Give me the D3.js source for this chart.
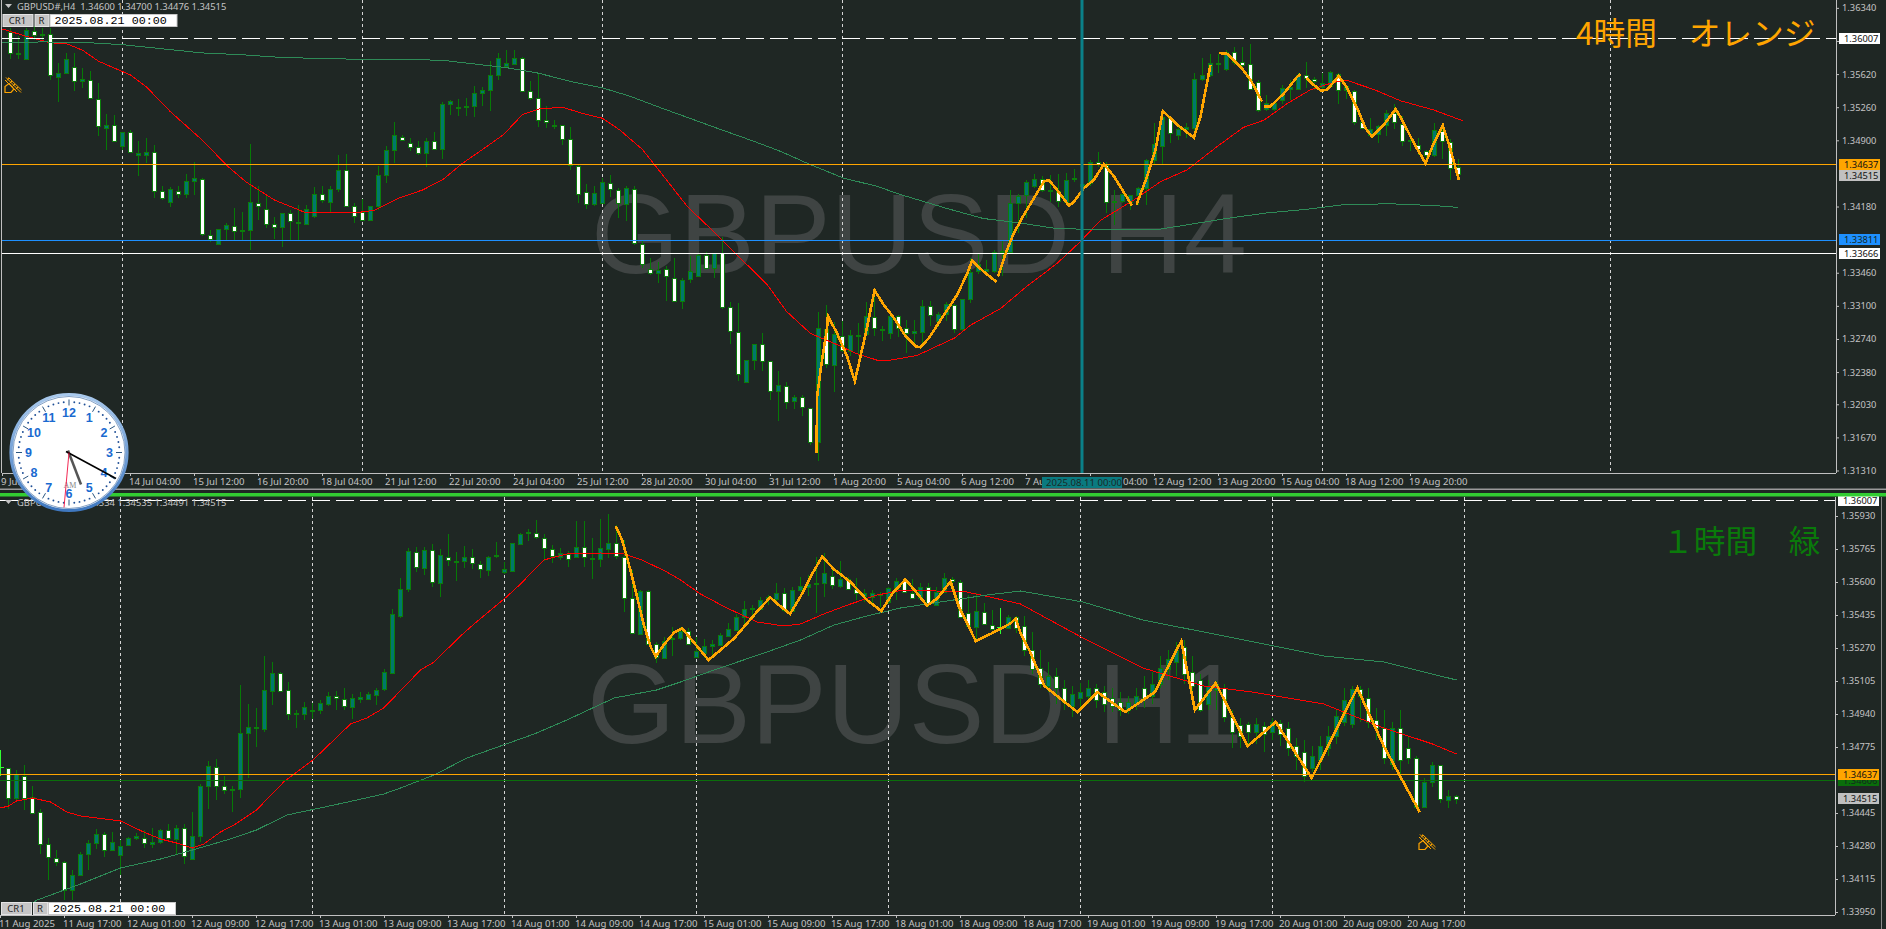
<!DOCTYPE html>
<html><head><meta charset="utf-8">
<script src="https://cdn.jsdelivr.net/npm/d3@7"></script>
<style>
html,body{margin:0;padding:0;background:#1f2724;overflow:hidden}
svg{display:block}
text{font-family:"Noto Sans",sans-serif}
</style></head><body><svg id="c" width="1886" height="929"></svg>
<script>
// all prices below are in pips (price x 10000)
const h4Open=[13607,13583,13578,13608,13604,13605,13559,13563,13569,13554,
13555,13534,13503,13506,13484,13498,13474,13474,13477,13434,
13422,13434,13431,13445,13447,13386,13377,13393,13396,13391,
13392,13421,13415,13399,13395,13410,13400,13399,13407,13431,
13423,13436,13457,13418,13412,13403,13418,13452,13479,13493,
13486,13482,13476,13489,13480,13529,13525,13526,13527,13541,
13545,13560,13571,13573,13579,13543,13535,13511,13505,13506,
13491,13462,13433,13420,13421,13443,13435,13421,13437,13377,
13349,13345,13349,13340,13315,13338,13342,13365,13351,13367,
13308,13281,13227,13251,13268,13249,13216,13222,13206,13210,
13198,13161,13284,13245,13277,13261,13277,13278,13297,13284,
13280,13298,13285,13280,13281,13309,13293,13301,13310,13284,
13317,13347,13347,13347,13368,13368,13421,13430,13439,13447,
13435,13434,13422,13447,13440,13443,13466,13463,13423,13423,
13422,13430,13438,13468,13484,13514,13496,13502,13503,13556,
13560,13573,13566,13585,13575,13572,13553,13523,13523,13533,
13545,13545,13560,13556,13548,13549,13562,13544,13543,13509,
13496,13496,13506,13519,13507,13489,13484,13478,13474,13500,
13488,13460];
const h4High=[13612,13603,13612,13614,13612,13612,13574,13585,13585,13569,
13565,13552,13519,13518,13499,13501,13489,13493,13485,13440,
13439,13440,13453,13466,13449,13393,13394,13400,13416,13412,
13486,13440,13429,13407,13411,13414,13420,13420,13439,13440,
13440,13474,13475,13422,13426,13419,13462,13484,13510,13496,
13492,13489,13492,13499,13532,13534,13535,13536,13549,13548,
13576,13585,13588,13588,13581,13554,13563,13527,13512,13507,
13505,13463,13443,13440,13449,13452,13438,13440,13440,13380,
13362,13358,13353,13362,13340,13364,13367,13369,13368,13385,
13314,13313,13251,13269,13281,13249,13239,13227,13213,13213,
13199,13303,13311,13292,13293,13284,13291,13314,13327,13288,
13300,13300,13295,13295,13316,13315,13303,13314,13312,13318,
13362,13366,13360,13371,13380,13436,13432,13447,13453,13451,
13452,13453,13454,13459,13443,13469,13477,13466,13436,13432,
13431,13439,13470,13509,13523,13516,13505,13509,13563,13579,
13584,13584,13588,13591,13591,13595,13556,13539,13532,13550,
13556,13563,13575,13559,13563,13565,13563,13550,13545,13514,
13514,13507,13523,13530,13516,13494,13492,13480,13509,13507,
13491,13470];
const h4Low=[13578,13578,13577,13599,13598,13556,13532,13562,13544,13547,
13535,13495,13480,13489,13480,13476,13451,13465,13427,13425,
13418,13427,13427,13431,13386,13379,13376,13382,13381,13382,
13371,13403,13395,13383,13374,13381,13382,13398,13406,13422,
13411,13434,13417,13400,13402,13402,13414,13444,13465,13489,
13478,13474,13461,13480,13470,13518,13516,13516,13515,13527,
13522,13556,13570,13572,13543,13534,13504,13503,13502,13485,
13458,13422,13415,13419,13421,13428,13405,13402,13376,13351,
13344,13335,13315,13315,13307,13335,13341,13351,13340,13307,
13269,13228,13226,13240,13239,13208,13185,13198,13198,13190,
13159,13141,13242,13216,13260,13255,13255,13277,13277,13272,
13274,13276,13259,13266,13269,13288,13287,13293,13281,13283,
13313,13345,13345,13346,13342,13367,13389,13406,13438,13434,
13423,13417,13421,13445,13429,13440,13461,13411,13398,13422,
13414,13420,13420,13463,13463,13487,13490,13492,13494,13555,
13559,13563,13565,13572,13570,13545,13521,13522,13522,13530,
13534,13545,13547,13545,13543,13548,13530,13535,13507,13502,
13494,13487,13495,13502,13484,13478,13474,13463,13472,13470,
13447,13448];
const h4Close=[13584,13584,13609,13604,13605,13560,13563,13578,13554,13556,
13535,13505,13506,13489,13499,13476,13476,13477,13435,13426,
13436,13431,13445,13448,13387,13382,13393,13397,13391,13392,
13422,13418,13399,13396,13410,13401,13401,13415,13431,13424,
13437,13457,13418,13407,13403,13418,13452,13479,13495,13490,
13482,13476,13489,13480,13529,13532,13526,13527,13541,13544,
13561,13579,13574,13579,13543,13535,13511,13509,13506,13491,
13463,13432,13420,13432,13444,13436,13421,13438,13378,13355,
13345,13348,13341,13315,13338,13347,13365,13351,13367,13308,
13282,13235,13251,13268,13250,13216,13223,13205,13210,13199,
13161,13285,13246,13279,13262,13278,13278,13298,13285,13283,
13298,13285,13280,13282,13309,13299,13301,13312,13284,13317,
13346,13355,13349,13368,13369,13421,13429,13444,13447,13435,
13434,13423,13446,13448,13442,13466,13464,13423,13424,13431,
13430,13438,13468,13485,13515,13498,13502,13504,13556,13560,
13573,13574,13585,13574,13572,13545,13523,13530,13530,13546,
13547,13560,13557,13554,13552,13564,13545,13548,13509,13503,
13502,13505,13519,13509,13489,13490,13480,13474,13501,13489,
13460,13452];

const h1Open=[13467,13467,13452,13463,13452.5,13445,13429,13422,13420,13406,
13413.5,13424,13429.5,13434,13426,13423.5,13428.5,13432,13432,13429,
13430,13436,13431.5,13437,13421.5,13433,13458,13467.5,13458,13456,
13456.5,13484.5,13487,13486.5,13505.5,13514.5,13506,13494,13494,13495.5,
13496,13499,13503,13501.5,13497.5,13501.5,13501.5,13503.5,13506.5,13514.5,
13543,13556.5,13575,13567,13576,13559.5,13572.5,13570.5,13570.5,13572.5,
13569,13566,13573,13565,13565.5,13579,13584.5,13584.5,13582,13576.5,
13572.5,13574,13572.5,13577.5,13572,13571.5,13576.5,13579.5,13572.5,13552,
13534,13555.5,13529,13522,13531.5,13532,13535.5,13522.5,13524.5,13528,
13528.5,13533,13536,13542.5,13546.5,13546.5,13552,13551.5,13554.5,13545.5,
13556,13557.5,13559,13559.5,13563,13558,13561.5,13556.5,13553,13552.5,
13554,13550,13556.5,13560.5,13554.5,13552,13557.5,13548.5,13555,13561.5,
13560,13544.5,13537.5,13545,13538.5,13537,13537,13542.5,13538,13526,
13517,13508,13513,13507,13498,13502,13503,13507,13505,13502,
13500,13496,13499,13507,13503,13509,13516.5,13520,13527.5,13515,
13511,13499,13506,13507,13492.5,13488.5,13489,13485,13488,13485,
13489.5,13487,13478,13475,13467,13471,13477,13483,13490,13489,
13506.5,13502,13491,13487,13469,13487,13477,13472,13447.5,13460,
13468.5,13451,13453];
const h1High=[13476,13467,13466,13468.5,13458,13446.5,13432,13426,13420.5,13416,
13425,13431,13436.5,13435,13435,13431,13432.5,13434.5,13436,13437,
13436.5,13439,13438.5,13439,13445,13459,13470.5,13471.5,13463,13458,
13508.5,13499,13497,13523,13520,13515,13510,13496,13500,13499.5,
13501,13505,13505.5,13507,13504,13505,13505,13507,13516.5,13546.5,
13562,13577,13577.5,13577.5,13579,13576.5,13584,13575,13578,13576.5,
13570.5,13573,13580,13570,13579.5,13584.5,13586.5,13591,13584,13578.5,
13577,13575.5,13590.5,13590.5,13582,13591.5,13594,13588.5,13581,13566,
13556,13556,13530,13532.5,13537.5,13537.5,13537,13532.5,13531.5,13531,
13534.5,13539.5,13544,13550.5,13548.5,13552.5,13553.5,13559.5,13557,13557.5,
13562.5,13563.5,13572.5,13574.5,13567.5,13570.5,13562.5,13562,13556.5,13556,
13555,13557.5,13562,13562,13561.5,13559.5,13559.5,13557.5,13564.5,13562.5,
13561,13553.5,13554.5,13549.5,13546,13547,13543.5,13543,13543,13535,
13526,13520,13517,13511,13508,13509.5,13511,13509,13508,13507,
13505,13503,13507,13513,13515,13523,13526,13530,13531,13523,
13514,13511,13510.5,13509,13496,13492,13490,13492,13490,13492,
13491,13490,13482,13481,13478,13483,13488,13496,13507,13508,
13508,13507,13497,13496,13490,13496,13483,13473,13462,13470,
13468.5,13456,13453.5];
const h1Low=[13463,13446.5,13451,13446,13444.5,13424,13411,13418,13401,13401,
13413,13416,13426.5,13422.5,13425.5,13413.5,13428.5,13431,13427,13427,
13429,13431,13423.5,13419,13421,13430,13446.5,13451,13454,13445,
13452,13462,13477.5,13485,13498.5,13505.5,13491,13487,13491,13491.5,
13494,13498,13496,13496,13491.5,13499.5,13501,13498.5,13505.5,13514.5,
13542,13555,13565,13563.5,13557.5,13552.5,13568,13560.5,13567,13566.5,
13562,13563,13572,13564,13565,13578.5,13580.5,13581.5,13570.5,13569.5,
13571,13567.5,13572,13567.5,13561.5,13567.5,13572,13571.5,13545,13534,
13533.5,13528.5,13519.5,13521.5,13523,13531,13528.5,13522.5,13522,13523.5,
13528.5,13532.5,13535.5,13538.5,13542,13546,13548.5,13550,13545,13545,
13555,13553,13544.5,13552.5,13556.5,13557,13556,13551,13550,13548.5,
13547.5,13549,13551,13554.5,13551.5,13551,13547.5,13548.5,13555,13559.5,
13542,13537.5,13530.5,13538.5,13536,13534,13537,13534.5,13523,13514,
13507,13505,13499,13496,13492.5,13496,13499,13497,13495,13495,
13493,13494,13496,13497,13499,13507,13511,13513,13509,13499,
13495,13496,13496,13490,13477,13477,13478,13479,13475,13481,
13478,13473,13466,13460,13465,13466,13473,13479,13488,13487,
13490,13487,13481,13469,13466,13463,13469,13447,13447,13457.5,
13449.5,13447,13449];
const h1Close=[13467.5,13452,13464,13452,13444.5,13429,13422.5,13420,13406,13413.5,
13424,13429.5,13434,13426,13430,13428,13432,13433,13429.5,13430,
13436,13432,13437,13423,13433,13458,13468,13458,13456,13456.5,
13484.5,13487.5,13487.5,13506,13514.5,13505.5,13494,13494.5,13497.5,13496,
13499.5,13503,13502,13498,13502,13502.5,13504,13506,13515,13544,
13556.5,13575.5,13567.5,13576,13560,13573.5,13571,13570,13572.5,13569.5,
13566.5,13572.5,13573.5,13566.5,13579.5,13584,13585,13582.5,13577,13573,
13574.5,13571.5,13577.5,13572.5,13571.5,13577,13579.5,13573,13552,13534.5,
13555.5,13529,13522.5,13530.5,13532,13535.5,13529,13525.5,13528,13529,
13533.5,13536.5,13542.5,13546.5,13547,13551,13552.5,13554.5,13546,13556,
13558,13559,13559.5,13564.5,13558.5,13561.5,13556.5,13554.5,13554.5,13554.5,
13553.5,13557,13560.5,13555,13552,13557.5,13549.5,13555,13562,13560.5,
13542.5,13538,13545.5,13539,13536.5,13537.5,13542.5,13537,13526,13516.5,
13509,13513,13507,13500,13504,13505,13507,13501,13499,13498,
13496,13500,13503,13502,13509,13517,13521.5,13526,13514,13508,
13496,13508,13509,13492.5,13485,13483,13485,13489,13484,13490,
13484,13477,13473,13463,13473,13478,13483,13493,13501,13506.5,
13503,13490,13487,13472,13487,13471,13472,13447.5,13460,13468.5,
13451.5,13453,13451.5];
const h1LimeBars=[0,125];

// moving averages: bar position + level
const h4RedBar=[-1,2,5,7,9,11,15,17,20,24,27,29.4,33,37,40,43,45.5,48.5,51.5,54,56.5,59,61.6,64,66,69,71.6,74,76.2,79,82,84.6,87.5,90.4,94.6,97,100,103,105.8,108.3,110,113.3,118,120,123.75,127,130.8,133.75,136.25,140.4,143.75,147.1,150.8,154.1,156.7,159.6,162.5,165.4,167.1,170.5,173.75,177.9,181.6];
const h4RedVal=[13611,13603,13596,13595,13588,13576,13561,13548,13521,13490,13463,13445,13425,13411,13411,13411,13414,13427,13436,13447,13465,13480,13496,13518,13524,13526,13519,13514,13501,13480,13447,13418,13394,13369,13333,13304,13280,13269,13258,13251,13251,13256,13275,13289,13307,13331,13356,13380,13403,13425,13445,13458,13483,13504,13512,13530,13545,13553,13555,13545,13533,13523,13511];
const h4GreenBar=[-1,4,10,14,17.3,24,29,34,39,44,49,54,59,62,66,70,74,77.4,81.4,89,92.9,96.25,99.6,104.1,108.3,111.25,117,121.6,126.25,130.8,136.25,143.4,147,152,157,162,166.6,172.5,178,181];
const h4GreenVal=[13596,13597,13596,13594,13591,13585,13583,13580,13579,13578,13578,13577,13572,13569,13563,13554,13547,13538,13525,13501,13489,13478,13465,13449,13440,13431,13416,13405,13400,13394,13393,13393,13398,13405,13411,13415,13420,13421,13419,13417];
const h1RedBar=[0,1,2,4,6.25,8.3,10,12,15,17.9,20,22,24,25.4,27.5,29.2,32,35.4,39.2,43.75,45.8,47.9,52.5,54.2,57.5,59.2,63.1,65,67.9,70.8,75,77.9,80.2,83.3,85,87.5,90.8,94.6,97.9,100,102.9,106.25,109.6,112.9,117,120.8,124.2,127.5,135.3,142.8,150.4,156.4,165.4,172.9,177.5,179,182];
const h1RedVal=[13447,13448,13450.5,13452,13450,13445,13443,13442,13440.5,13435,13431.5,13429.5,13427,13429,13435,13438.5,13446,13460,13471.5,13489,13492,13497,13516,13520,13533,13539,13552,13559,13571,13574,13574.5,13574,13571,13565,13561,13554,13547,13540,13538,13539,13544,13549,13553.5,13556,13555.5,13555,13552,13549,13532,13517,13508,13505,13499,13487,13481,13479,13474];
const h1GreenBar=[1,4.6,10,15,20,24,28.3,32,35.8,41.7,47.9,50,54.2,58.3,62.5,66.7,70.8,76.7,82,85,89.2,95.8,100,104.2,108.3,112.5,118.3,123.3,127.5,135.3,142.8,150.4,157.9,165.4,172.9,182];
const h1GreenVal=[13393,13401,13409,13417,13421.5,13426,13431,13436,13443.5,13448.5,13454,13457,13463.5,13472,13478,13484,13491,13502,13506,13510,13516,13525,13531,13538.5,13543,13547,13550.5,13553.5,13555.5,13550,13541,13535,13529,13523,13520,13511];

// zigzag overlay, each array is one unbroken stroke
const h4ZigBar=[[100.75,100.83,101.25,102.08,102.17,103.33,104.58,105.54,106.25,107.08,108,109.17,110.42,111.88,113.13,113.75,114.8,116.67,118.33,119.58,120.2,121.67,123.25],
[123.46,124.38,125.42,126.67,127.92,129.17,129.79,130.83,132.29,132.92,134.17,135.42,136.67,137.92,140.2],
[140.75,142.08,143.13,144.04,145.83,147.92,148.75,150],
[151.04,152.08,153.75,155,156.46],
[156.67,157.5,159.17,160.83,161.25],
[162,162.92,163.83,164.58,166.04,167.08,168.33,169.38,170.2,171.67,173.13,173.96,175.42,176.88,177.92,179.04,180,181.04]];
const h4ZigVal=[[13150,13211,13240,13287,13299,13280,13255,13228,13255,13287,13327,13311,13297,13277,13266,13265,13275,13300,13322,13345,13359,13347,13336],
[13342,13367,13389,13409,13427,13445,13447,13436,13419,13423,13438,13447,13464,13451,13419],
[13420,13451,13480,13522,13507,13493,13516,13572],
[13585,13584,13570,13556,13532],
[13527,13527,13541,13559,13562],
[13558,13550,13544,13545,13560,13547,13525,13503,13494,13507,13524,13512,13487,13465,13487,13506,13480,13447]];
const h1ZigBar=[76.9,77.7,78.3,79.2,80.4,81.25,81.9,82.9,84.2,85.2,87.1,88.5,90,91.7,94.2,96.2,97.3,98.7,100,101.5,102.7,104.2,106.25,108.3,110.1,111.5,113.1,114.6,115.8,117.1,118.75,119.8,121.9,123.75,126.25,126.9,127.5,128.6,130.5,134.6,137.1,140.6,144.3,147.6,149.3,151.9,155.9,159.4,163.9,169.6,172.9,177.4];
const h1ZigVal=[13588,13581,13572.7,13558.5,13539,13527.7,13522.7,13528.5,13534.7,13536.8,13527.7,13521,13526,13531.8,13543.5,13552.3,13548.5,13544,13552.7,13564.3,13572.7,13566.3,13560,13551,13545.5,13554.3,13561.3,13554.3,13548.2,13551.8,13560.2,13547.7,13530.5,13534,13539.3,13541.8,13534.3,13526,13508,13495,13505,13495,13505,13530.5,13496,13509.5,13478,13490,13462,13507,13478,13445];

// axis contents
const h4PriceTicks=[1.36340,1.35980,1.35620,1.35260,1.34900,1.34180,1.33460,1.33100,1.32740,1.32380,1.32030,1.31670,1.31310];
const h1PriceTicks=[1.35930,1.35765,1.35600,1.35435,1.35270,1.35105,1.34940,1.34775,1.34445,1.34280,1.34115,1.33950];
const h4TimeLabels=["9 Jul 20:00","11 Jul 12:00","14 Jul 04:00","15 Jul 12:00","16 Jul 20:00","18 Jul 04:00","21 Jul 12:00","22 Jul 20:00","24 Jul 04:00","25 Jul 12:00","28 Jul 20:00","30 Jul 04:00","31 Jul 12:00","1 Aug 20:00","5 Aug 04:00","6 Aug 12:00","7 Aug 20:00","11 Aug 04:00","12 Aug 12:00","13 Aug 20:00","15 Aug 04:00","18 Aug 12:00","19 Aug 20:00"];
const h1TimeLabels=["11 Aug 2025","11 Aug 17:00","12 Aug 01:00","12 Aug 09:00","12 Aug 17:00","13 Aug 01:00","13 Aug 09:00","13 Aug 17:00","14 Aug 01:00","14 Aug 09:00","14 Aug 17:00","15 Aug 01:00","15 Aug 09:00","15 Aug 17:00","18 Aug 01:00","18 Aug 09:00","18 Aug 17:00","19 Aug 01:00","19 Aug 09:00","19 Aug 17:00","20 Aug 01:00","20 Aug 09:00","20 Aug 17:00"];
const h4GridBars=[14,44,74,104,164,200];
const h1GridBars=[15,39,63,87,111,135,159,183];
const h4CursorBar=134;
const h4Levels=[{v:13600.7,c:"#ffffff",t:"1.36007",dash:"18 6"},{v:13463.7,c:"#ffa500",t:"1.34637"},{v:13381.1,c:"#1e90ff",t:"1.33811"},{v:13366.6,c:"#ffffff",t:"1.33666"}];
const h1Levels=[{v:13600.7,c:"#ffffff",t:"1.36007",dash:"18 6"},{v:13460.6,c:"#0a6e0a",t:"1.34606"},{v:13463.7,c:"#ffa500",t:"1.34637"}];
const lastPrice=13451.5;

const UP="#00786c",EDGE="#0b7d0b",WICK="#067a06",BG="#1f2724",AX="#c0c0c0",TXT="#c4c4c4";
const svg=d3.select("#c");
svg.append("rect").attr("width",1886).attr("height",929).attr("fill",BG);

const xTop=d3.scaleLinear().domain([0,1]).range([10,18]);
const xBot=d3.scaleLinear().domain([0,1]).range([0,8]);
const yTop=d3.scaleLinear().domain([13600.7,13463.7]).range([38.5,164.5]);
const yBot=d3.scaleLinear().domain([13600.7,13395]).range([500.6,912]);
const px=v=>Math.floor(v)+.5;

function panel(o){
  const g=svg.append("g");
  const {x,y,L,R,T,B}=o;
  g.append("text").attr("x",o.wmX).attr("y",o.wmY).attr("fill","#3f4443")
    .style("font-family","'Liberation Sans',Arial,sans-serif").style("font-size","113.5px").text(o.wm);
  g.selectAll(".gr").data(o.grid).join("line").attr("x1",d=>px(x(d))).attr("x2",d=>px(x(d)))
    .attr("y1",T).attr("y2",B).attr("stroke","#d4d4d4").attr("stroke-dasharray","3 3").attr("shape-rendering","crispEdges");
  const ln=(bars,vals,c,w)=>g.append("path").datum(bars.map((b,i)=>[b,vals[i]]))
    .attr("d",d3.line().x(d=>x(d[0])+.5).y(d=>y(d[1]))).attr("fill","none").attr("stroke",c).attr("stroke-width",w);
  const idx=d3.range(o.open.length);
  const cg=g.append("g").attr("shape-rendering","crispEdges");
  cg.selectAll(".w").data(idx).join("line")
    .attr("x1",i=>x(i)+.5).attr("x2",i=>x(i)+.5).attr("y1",i=>y(o.high[i])).attr("y2",i=>y(o.low[i]))
    .attr("stroke",i=>o.lime.includes(i)?"#32ff32":WICK);
  cg.selectAll(".b").data(idx.filter(i=>!o.lime.includes(i))).join("rect")
    .attr("x",i=>x(i)-1.5).attr("width",4)
    .attr("y",i=>px(y(Math.max(o.open[i],o.close[i]))))
    .attr("height",i=>Math.max(1,Math.round(Math.abs(y(o.open[i])-y(o.close[i])))))
    .attr("fill",i=>o.close[i]>=o.open[i]?UP:"#ffffff").attr("stroke",EDGE);
  cg.selectAll(".lm").data(o.lime).join("line").attr("x1",i=>x(i)-3).attr("x2",i=>x(i)+4)
    .attr("y1",i=>px(y(o.close[i]))).attr("y2",i=>px(y(o.close[i]))).attr("stroke","#32ff32");
  ln(o.rb,o.rv,"#ff0000",1).attr("shape-rendering","crispEdges");
  ln(o.gb,o.gv,"#2e8b57",1).attr("shape-rendering","crispEdges");
  const lg=g.append("g").attr("shape-rendering","crispEdges");
  lg.selectAll("line").data(o.levels).join("line").attr("x1",L).attr("x2",R)
    .attr("y1",d=>px(y(d.v))).attr("y2",d=>px(y(d.v))).attr("stroke",d=>d.c).attr("stroke-dasharray",d=>d.dash||null);
  o.zig.forEach(z=>ln(z[0],z[1],"#ffa500",2.6).attr("shape-rendering","crispEdges"));
  const ax=d3.axisRight(y).tickValues(o.pt.map(v=>v*1e4)).tickFormat(v=>(v/1e4).toFixed(5)).tickSize(3).tickPadding(3);
  const ag=g.append("g").attr("transform",`translate(${R},0)`).call(ax);
  ag.select(".domain").remove();
  ag.selectAll("line").attr("stroke",AX);
  ag.selectAll("text").attr("fill",TXT).style("font-size","9.3px");
  g.append("line").attr("x1",R+.5).attr("x2",R+.5).attr("y1",T).attr("y2",B).attr("stroke",AX).attr("shape-rendering","crispEdges");
  const tk=o.labels.map((_,i)=>i*8+o.t0);
  const tx=d3.axisBottom(x).tickValues(tk).tickFormat((d,i)=>o.labels[i]).tickSize(3).tickPadding(2);
  const tg=g.append("g").attr("transform",`translate(0,${B})`).call(tx);
  tg.select(".domain").remove();
  tg.selectAll("line").attr("stroke",AX);
  tg.selectAll("text").attr("fill",TXT).attr("text-anchor","start").attr("x",-1.5).style("font-size","9.6px");
  g.append("line").attr("x1",L).attr("x2",R).attr("y1",B+.5).attr("y2",B+.5).attr("stroke",AX).attr("shape-rendering","crispEdges");
  const tags=o.levels.concat([{v:lastPrice,c:"#c0c0c0",t:"1.34515"}]);
  tags.forEach(d=>{
    const cy=y(d.v),bx=R+3;
    g.append("rect").attr("x",bx).attr("y",Math.round(cy)-6).attr("width",41).attr("height",11).attr("fill",d.c);
    g.append("text").attr("x",bx+5).attr("y",Math.round(cy)+3).attr("fill",d.c==="#1e90ff"||d.c==="#0a6e0a"?"#12281e":"#111").style("font-size","9.3px").text(d.t);
  });
  g.append("path").attr("d",`M5 ${o.hy-2}h7l-3.5 4z`).attr("fill",TXT);
  g.append("text").attr("x",17).attr("y",o.hy+3.5).attr("fill",TXT).style("font-size","9.4px").attr("xml:space","preserve").text(o.head);
  const by=o.by;
  const btn=(bx,w,t)=>{g.append("rect").attr("x",bx+.5).attr("y",by+.5).attr("width",w).attr("height",12).attr("fill","#c6c6c6").attr("stroke","#e4e4e4");
    g.append("text").attr("x",bx+w/2).attr("y",by+10).attr("text-anchor","middle").attr("fill","#222").style("font-size","9.5px").text(t);};
  btn(o.bx,30,"CR1");btn(o.bx+32,14,"R");
  g.append("rect").attr("x",o.bx+47.5).attr("y",by+.5).attr("width",127).attr("height",12).attr("fill","#fff").attr("stroke","#c8c8c8");
  g.append("text").attr("x",o.bx+52).attr("y",by+10).attr("fill","#000").style("font-family","'Liberation Mono',monospace").style("font-size","11.7px").text("2025.08.21 00:00");
  g.append("text").attr("x",o.nX).attr("y",o.nY).attr("fill",o.nC).style("font-family","'Noto Sans CJK JP',sans-serif").style("font-size","31.7px").text(o.note);
  return g;
}

const gt=panel({x:xTop,y:yTop,L:2,R:1836,T:0,B:473,wm:"GBPUSD H4",wmX:591,wmY:273,
  grid:h4GridBars,open:h4Open,high:h4High,low:h4Low,close:h4Close,lime:[],
  rb:h4RedBar,rv:h4RedVal,gb:h4GreenBar,gv:h4GreenVal,levels:h4Levels,
  zig:h4ZigBar.map((b,i)=>[b,h4ZigVal[i]]),pt:h4PriceTicks,labels:h4TimeLabels,t0:-1,
  hy:6,head:"GBPUSD#,H4  1.34600 1.34700 1.34476 1.34515",by:14,bx:2.5,
  nX:1576,nY:45,nC:"#ffa500",note:"4時間　オレンジ"});
const gb=panel({x:xBot,y:yBot,L:0,R:1835,T:497,B:915,wm:"GBPUSD H1",wmX:587,wmY:743,
  grid:h1GridBars,open:h1Open,high:h1High,low:h1Low,close:h1Close,lime:h1LimeBars,
  rb:h1RedBar,rv:h1RedVal,gb:h1GreenBar,gv:h1GreenVal,levels:h1Levels,
  zig:[[h1ZigBar,h1ZigVal]],pt:h1PriceTicks,labels:h1TimeLabels,t0:0,
  hy:502,head:"GBPUSD#,H1  1.34534 1.34535 1.34491 1.34515",by:902,bx:1,
  nX:1662,nY:553,nC:"#0a7a0a",note:"１時間　緑"});

svg.append("line").attr("x1",1.5).attr("x2",1.5).attr("y1",0).attr("y2",473).attr("stroke",AX).attr("shape-rendering","crispEdges");
svg.append("rect").attr("x",0).attr("y",488.5).attr("width",1886).attr("height",1.5).attr("fill","#9a9a9a");
svg.append("rect").attr("x",0).attr("y",493).attr("width",1886).attr("height",3.5).attr("fill","#32cd32");
svg.append("line").attr("x1",1881.5).attr("x2",1881.5).attr("y1",497).attr("y2",929).attr("stroke","#8a8a8a");

const cx=xTop(h4CursorBar);
svg.append("rect").attr("x",cx-1.5).attr("y",0).attr("width",3).attr("height",473).attr("fill","#0a8088");
svg.append("rect").attr("x",1042).attr("y",477).attr("width",80).attr("height",11).attr("fill","#0a7a80");
svg.append("text").attr("x",1046).attr("y",486).attr("fill","#1a2a28").style("font-size","9.6px").text("2025.08.11 00:00");

function pick(px0,py0){
  const g=svg.append("g").attr("transform",`translate(${px0},${py0})`).attr("fill","none").attr("stroke","#ffa500");
  g.append("path").attr("d","M1 9.5l0 6h6l3-3.5-5-5.5z").attr("stroke-width",1.2);
  g.append("path").attr("d","M2 0.5l15 15M4.5 0.5l13 12.5M1 3l12 12").attr("stroke-width",1);
  g.append("path").attr("d","M5 1l-2 2.5M8 4l-2.5 2.5M11 7l-2.5 2.5M14 10l-2.5 2.5").attr("stroke-width",1);
}
pick(4,77);pick(1418,834);

(function(){
  const C=[69,452.5];
  const g=svg.append("g").attr("transform",`translate(${C})`);
  const grad=svg.append("defs").append("linearGradient").attr("id","ring").attr("x1",0).attr("y1",0).attr("x2",0).attr("y2",1);
  grad.append("stop").attr("offset","0").attr("stop-color","#a9c9ec");
  grad.append("stop").attr("offset","1").attr("stop-color","#3f78c0");
  g.append("circle").attr("r",58).attr("fill","#fff").attr("stroke","url(#ring)").attr("stroke-width",3.2);
  g.append("circle").attr("r",56).attr("fill","none").attr("stroke","#2f5f9c").attr("stroke-width",.6);
  d3.range(60).forEach(m=>{
    const a=m*Math.PI/30,s=Math.sin(a),c=-Math.cos(a);
    if(m%5===0)g.append("line").attr("x1",s*47).attr("y1",c*47).attr("x2",s*53).attr("y2",c*53).attr("stroke","#2a5580").attr("stroke-width",1);
    else g.append("circle").attr("cx",s*50.5).attr("cy",c*50.5).attr("r",.95).attr("fill","#1f4f96");
  });
  d3.range(1,13).forEach(h=>{
    const a=h*Math.PI/6;
    g.append("text").attr("x",Math.sin(a)*40.5).attr("y",-Math.cos(a)*40.5+4.5).attr("text-anchor","middle")
      .attr("fill","#1a6ad0").style("font-size","12.5px").style("font-weight","700").style("font-family","'Liberation Sans',sans-serif").text(h);
  });
  g.append("text").attr("x",1).attr("y",35).attr("text-anchor","middle").attr("fill","#888").style("font-size","8px").style("font-family","'Liberation Serif',serif").text("AM");
  g.append("line").attr("x1",-1).attr("y1",-2).attr("x2",12).attr("y2",32).attr("stroke","#555").attr("stroke-width",2.5);
  g.append("line").attr("x1",-3).attr("y1",-1).attr("x2",47).attr("y2",26).attr("stroke","#000").attr("stroke-width",1.5);
  g.append("line").attr("x1",0).attr("y1",0).attr("x2",-5).attr("y2",55).attr("stroke","#f01040").attr("stroke-width",.9);
})();
</script></body></html>
